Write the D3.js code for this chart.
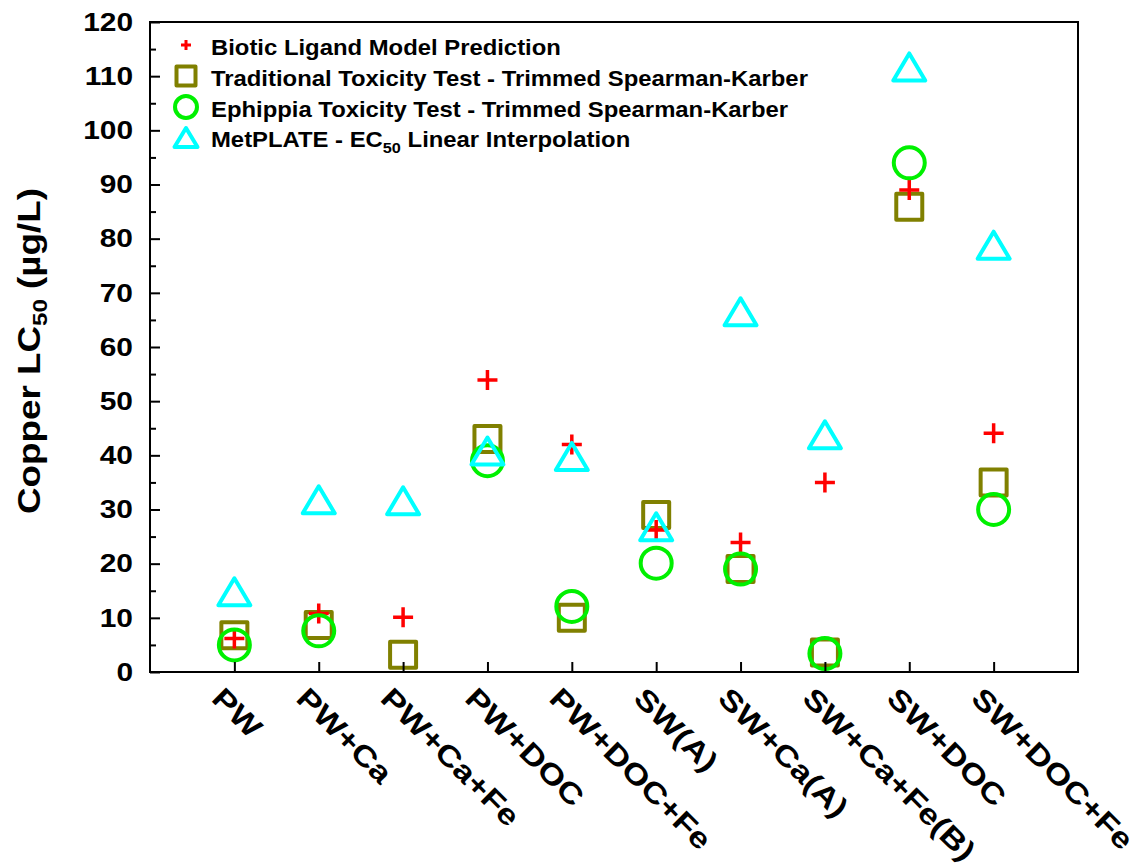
<!DOCTYPE html>
<html>
<head>
<meta charset="utf-8">
<script src="https://cdn.jsdelivr.net/npm/d3@7/dist/d3.min.js"></script>
<style>
  html, body { margin: 0; padding: 0; background: #fff; }
  svg { display: block; }
  text { font-family: "Liberation Sans", Arial, sans-serif; font-weight: bold; fill: #000; }
</style>
</head>
<body>
<svg id="chart" width="1140" height="867"></svg>
<script>
// Water treatments on the x axis
const categories = ["PW", "PW+Ca", "PW+Ca+Fe", "PW+DOC", "PW+DOC+Fe",
                    "SW(A)", "SW+Ca(A)", "SW+Ca+Fe(B)", "SW+DOC", "SW+DOC+Fe"];

// Copper LC50 / EC50 values (µg/L), one per treatment (null = not measured)
const blmPrediction   = [6.2, 10.8, 10.1, 53.9, 42.0, 26.2, 23.9, 35.0, 89.0, 44.1];
const traditionalTest = [6.8, 8.7, 3.2, 43.0, 10.0, 29.0, 19.0, 3.6, 85.9, 35.0];
const ephippiaTest    = [5.0, 7.6, null, 39.0, 12.1, 20.1, 19.0, 3.4, 94.0, 30.0];
const metplateEC50    = [14.8, 31.8, 31.6, 40.8, 39.8, 26.8, 66.5, 43.8, 111.7, 78.8];

const yTicks = [0, 10, 20, 30, 40, 50, 60, 70, 80, 90, 100, 110, 120];
const yMinorTicks = [5, 15, 25, 35, 45, 55, 65, 75, 85, 95, 105, 115];

const svg = d3.select("#chart");
const plot = { left: 150, right: 1078, top: 22, bottom: 672 };

const x = d3.scalePoint().domain(categories).range([plot.left, plot.right]).padding(1);
const y = d3.scaleLinear().domain([0, 120]).range([plot.bottom, plot.top]);

// Marker shapes (paths centred on 0,0)
function squarePath(s) { const h = s / 2; return `M${-h},${-h}H${h}V${h}H${-h}Z`; }
function trianglePath(w, h) { return `M0,${-h / 2}L${w / 2},${h / 2}L${-w / 2},${h / 2}Z`; }
function plusPath(a) { const h = a / 2; return `M${-h},0H${h}M0,${-h}V${h}`; }

const series = [
  { name: "Biotic Ligand Model Prediction", values: blmPrediction, kind: "plus", color: "#ff0000" },
  { name: "Traditional Toxicity Test - Trimmed Spearman-Karber", values: traditionalTest, kind: "square", color: "#808000" },
  { name: "Ephippia Toxicity Test - Trimmed Spearman-Karber", values: ephippiaTest, kind: "circle", color: "#00f000" },
  { name: "MetPLATE - EC|50| Linear Interpolation", values: metplateEC50, kind: "triangle", color: "#00ffff" }
];

function drawMarker(g, kind, color, big) {
  if (kind === "plus") {
    g.append("path").attr("d", plusPath(big ? 20 : 10))
      .attr("stroke", color).attr("stroke-width", big ? 3.5 : 3).attr("fill", "none");
  } else if (kind === "square") {
    g.append("path").attr("d", squarePath(big ? 26 : 19))
      .attr("stroke", color).attr("stroke-width", 4).attr("stroke-linejoin", "round").attr("fill", "none");
  } else if (kind === "circle") {
    g.append("circle").attr("r", big ? 15.5 : 11)
      .attr("stroke", color).attr("stroke-width", 4).attr("fill", "none");
  } else {
    g.append("path").attr("d", big ? trianglePath(32, 27) : trianglePath(23, 19))
      .attr("stroke", color).attr("stroke-width", 4).attr("stroke-linejoin", "round").attr("fill", "none");
  }
}

// Data markers: squares first, then pluses, circles and triangles on top
const drawOrder = [1, 0, 2, 3];
drawOrder.forEach(si => {
  const s = series[si];
  const g = svg.append("g").attr("class", "series-" + s.kind);
  s.values.forEach((v, i) => {
    if (v == null) return;
    const m = g.append("g").attr("transform", `translate(${x(categories[i])},${y(v)})`);
    drawMarker(m, s.kind, s.color, true);
  });
});

// Frame
svg.append("rect")
  .attr("x", plot.left).attr("y", plot.top)
  .attr("width", plot.right - plot.left).attr("height", plot.bottom - plot.top)
  .attr("fill", "none").attr("stroke", "#000").attr("stroke-width", 2);

// Y axis (ticks pointing inward); labels are widened slightly
const yAxis = d3.axisLeft(y).tickValues(yTicks).tickSize(-10).tickPadding(17).tickFormat(d3.format("d"));
const yG = svg.append("g").attr("transform", `translate(${plot.left},0)`).call(yAxis);
yG.select(".domain").remove();
yG.selectAll(".tick line").attr("stroke", "#000").attr("stroke-width", 2);
yG.selectAll(".tick text")
  .style("font-family", "'Liberation Sans', Arial, sans-serif")
  .style("font-weight", "bold").style("font-size", "26px").attr("fill", "#000")
  .attr("x", null)
  .attr("transform", "translate(-17,0) scale(1.15,1)");

const yMinor = d3.axisLeft(y).tickValues(yMinorTicks).tickSize(-6).tickFormat("");
const yMG = svg.append("g").attr("transform", `translate(${plot.left},0)`).call(yMinor);
yMG.select(".domain").remove();
yMG.selectAll(".tick line").attr("stroke", "#000").attr("stroke-width", 2);

// X axis (ticks pointing inward, labels rotated)
const xAxis = d3.axisBottom(x).tickSize(-10).tickFormat("");
const xG = svg.append("g").attr("transform", `translate(0,${plot.bottom})`).call(xAxis);
xG.select(".domain").remove();
xG.selectAll(".tick line").attr("stroke", "#000").attr("stroke-width", 2);

svg.append("g").selectAll("text").data(categories).join("text")
  .attr("transform", d => `translate(${x(d) - 24},${plot.bottom + 28}) rotate(45) scale(1.2,1)`)
  .attr("text-anchor", "start")
  .style("font-size", "29px")
  .text(d => d);

// Y axis title
const yTitle = svg.append("text")
  .attr("transform", "translate(40,351) rotate(-90) scale(1.15,1)")
  .attr("text-anchor", "middle")
  .style("font-size", "32px");
yTitle.append("tspan").text("Copper LC");
yTitle.append("tspan").attr("dy", 7).style("font-size", "21px").text("50");
yTitle.append("tspan").attr("dy", -7).text(" (\u00b5g/L)");

// Legend
const legend = svg.append("g");
const rowY = [45, 76, 107, 137.5];
series.forEach((s, i) => {
  const m = legend.append("g").attr("transform", `translate(186,${rowY[i]})`);
  drawMarker(m, s.kind, s.color, false);
  const t = legend.append("text")
    .attr("transform", `translate(211,${rowY[i] + 9.5}) scale(1.085,1)`)
    .style("font-size", "22px");
  const parts = s.name.split("|");
  t.append("tspan").text(parts[0]);
  if (parts.length > 1) {
    t.append("tspan").attr("dy", 6).style("font-size", "15px").text(parts[1]);
    t.append("tspan").attr("dy", -6).text(parts[2]);
  }
});
</script>
</body>
</html>
